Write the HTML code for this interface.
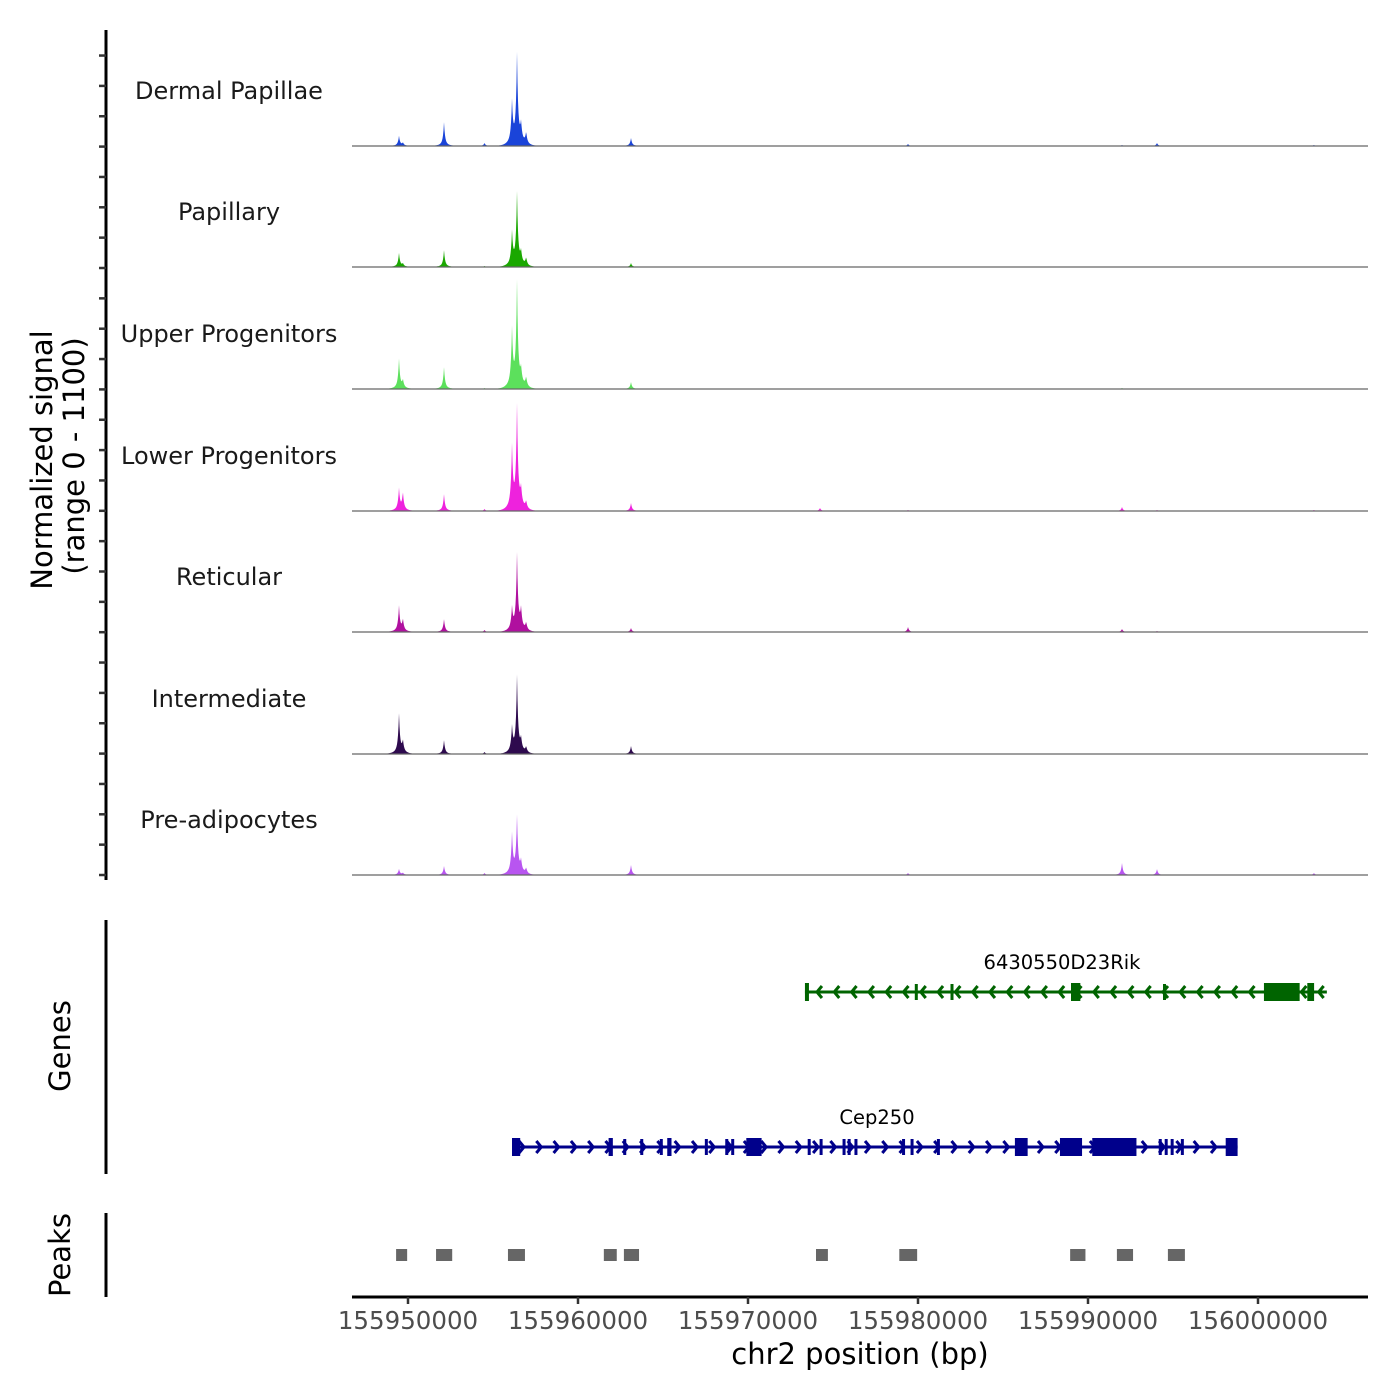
<!DOCTYPE html>
<html><head><meta charset="utf-8">
<style>
html,body{margin:0;padding:0;background:#fff;}
svg{display:block;font-family:"DejaVu Sans","Liberation Sans",sans-serif;}
</style></head>
<body>
<svg id="chart" width="1400" height="1400" viewBox="0 0 1400 1400" xmlns="http://www.w3.org/2000/svg">
<rect width="1400" height="1400" fill="#fff"/>
<g id="tracks"></g>
<g id="genes"></g>
<g id="peaks"></g>
<g id="axes"></g>
<text transform="translate(52,460) rotate(-90)" text-anchor="middle" font-size="29" fill="#000">Normalized signal</text>
<text transform="translate(84,456) rotate(-90)" text-anchor="middle" font-size="29" fill="#000">(range 0 - 1100)</text>
<text transform="translate(70,1046) rotate(-90)" text-anchor="middle" font-size="29" fill="#000">Genes</text>
<text transform="translate(70,1255) rotate(-90)" text-anchor="middle" font-size="29" fill="#000">Peaks</text>
<text x="860" y="1364" text-anchor="middle" font-size="29" fill="#000">chr2 position (bp)</text>
</svg>
<script>
const NS="http://www.w3.org/2000/svg";
// ---- data ----
const trackNames=["Dermal Papillae","Papillary","Upper Progenitors","Lower Progenitors","Reticular","Intermediate","Pre-adipocytes"];
const trackColors=["#1a44d9","#1aa800","#5ce05c","#ee22dd","#b0109f","#2e0a4e","#b855f0"];
const peakPositions=[155949470,155949700,155952118,155954500,155956118,155956412,155956650,155956950,155963118,155974235,155979412,155992000,155994060,156003290];
const sigDP=[10,3,24,3,42,90,18,12,8,0,2,1,3,1];
const sigPap=[14,3,17,1,33,73,12,8,4,0,0,0,0,0];
const sigUpper=[30,8,22,1,57,105,15,10,7,0,0,1,0,0];
const sigLower=[22,18,17,2,62,103,18,8,8,3,1,4,1,1];
const sigRet=[26,12,13,2,22,77,20,8,4,0,5,3,1,0];
const sigInter=[40,12,14,2,25,77,12,6,8,0,0,0,0,0];
const sigPre=[6,2,9,2,40,57,12,6,10,0,2,12,6,2];
const signals=[sigDP,sigPap,sigUpper,sigLower,sigRet,sigInter,sigPre];
const ymax=121;
const xTicks=[155950000,155960000,155970000,155980000,155990000,156000000];
const geneNames=["6430550D23Rik","Cep250"];
const rikRange=[155973350,156004050];
const rikExons=[[155973350,155973550],[155989000,155989550],[156000350,156002450],[156002900,156003300]];
const rikThin=[155979900,155982000,155994500];
const cepRange=[155956118,155998800];
const cepExons=[[155956118,155956600],[155961800,155962050],[155965250,155965500],[155969900,155970800],[155985700,155986450],[155988350,155989650],[155990250,155992850],[155998100,155998800]];
const cepThin=[155962750,155963750,155964900,155967550,155968750,155969100,155973600,155974300,155975650,155975950,155976350,155979150,155979650,155981200,155994250,155994600,155994950,155995550];
const peakStarts=[155949300,155951650,155955880,155961520,155962700,155974000,155978900,155988950,155991700,155994700];
const peakEnds=[155949950,155952600,155956880,155962280,155963590,155974700,155979950,155989850,155992650,155995700];
// ---- scales ----
const PXPER=170/10000, XL=352, XR=1368;
function xs(bp){return 408+(bp-155950000)*PXPER;}
const baselines=[146,267,389,511,632,754,875];
function ys(v,i){return baselines[i]-v*(121/ymax);}
function el(tag,attrs,parent){const e=document.createElementNS(NS,tag);for(const k in attrs)e.setAttribute(k,attrs[k]);parent.appendChild(e);return e;}
const gT=document.getElementById('tracks');
signals.forEach((sig,i)=>{
  const g=el('g',{},gT);
  
  
  const lab=el('text',{x:229,y:baselines[i]-47,'text-anchor':'middle','font-size':24,fill:'#1a1a1a'},g);
  lab.textContent=trackNames[i];
  
  
  let d='M'+XL+','+baselines[i];
  for(let x=XL;x<=XR;x+=0.5){
    let v=0;
    for(let k=0;k<peakPositions.length;k++){
      const dx=Math.abs(x-xs(peakPositions[k]));
      v+=sig[k]*(0.8*Math.exp(-dx/1.0)+0.2*Math.exp(-dx/4));
    }
    d+=' L'+x+','+ys(Math.min(v,ymax),i).toFixed(2);
  }
  d+=' L'+XR+','+baselines[i]+'Z';
  const p=el('path',{d:d,fill:trackColors[i],stroke:'none'},g);
  
  
  const bl=el('line',{x1:XL,x2:XR,y1:baselines[i],y2:baselines[i],stroke:'#666',"stroke-width":1.2},g);
  
  
});
// genes
const gG=document.getElementById('genes');
function drawGene(name,range,exons,thin,y,color,dir,labelX){
  const g=el('g',{},gG);
  
  
  const t=el('text',{x:labelX,y:y-23,'text-anchor':'middle','font-size':19.5,fill:'#000'},g);
  t.textContent=name;
  
  
  el('line',{x1:xs(range[0]),x2:xs(range[1]),y1:y,y2:y,stroke:color,'stroke-width':3},g);
  const a=xs(range[0]),b=xs(range[1]);
  for(let x=a+12;x<b-5;x+=17.3){
    el('path',{d:dir<0?`M${x+5},${y-6} L${x},${y} L${x+5},${y+6}`:`M${x-5},${y-6} L${x},${y} L${x-5},${y+6}`,stroke:color,'stroke-width':3,fill:'none'},g);
  }
  thin.forEach(p=>{el('rect',{x:xs(p)-1.5,y:y-8,width:3,height:16,fill:color},g);});
  exons.forEach(e=>{
    const r=el('rect',{x:xs(e[0]),y:y-9,width:Math.max(4,xs(e[1])-xs(e[0])),height:18,fill:color},g);
    
    
  });
}
drawGene(geneNames[0],rikRange,rikExons,rikThin,992,'#006400',-1,1062);
drawGene(geneNames[1],cepRange,cepExons,cepThin,1147,'#00008b',1,877);
// peaks
const gP=document.getElementById('peaks');
peakStarts.forEach((s,i)=>{
  const r=el('rect',{x:xs(s),y:1249,width:xs(peakEnds[i])-xs(s),height:12,fill:'#666'},gP);
  
  
});
// axes
const gA=document.getElementById('axes');
let ln=el('line',{x1:106,x2:106,y1:30,y2:880,stroke:'#000','stroke-width':3},gA);


for(let k=0;k<28;k++){const y=875-k*30.35;el('line',{x1:99,x2:106,y1:y,y2:y,stroke:'#333','stroke-width':2.5},gA);}
ln=el('line',{x1:106,x2:106,y1:920,y2:1174,stroke:'#000','stroke-width':3},gA);


ln=el('line',{x1:106,x2:106,y1:1213,y2:1297,stroke:'#000','stroke-width':3},gA);


ln=el('line',{x1:XL,x2:XR,y1:1297,y2:1297,stroke:'#000','stroke-width':3},gA);


xTicks.forEach(t=>{
  const x=xs(t);
  el('line',{x1:x,x2:x,y1:1297,y2:1304,stroke:'#333','stroke-width':2.5},gA);
  const tx=el('text',{x:x,y:1329,'text-anchor':'middle','font-size':24.5,fill:'#4d4d4d'},gA);
  tx.textContent=t;
  
  
});
</script>
</body></html>
